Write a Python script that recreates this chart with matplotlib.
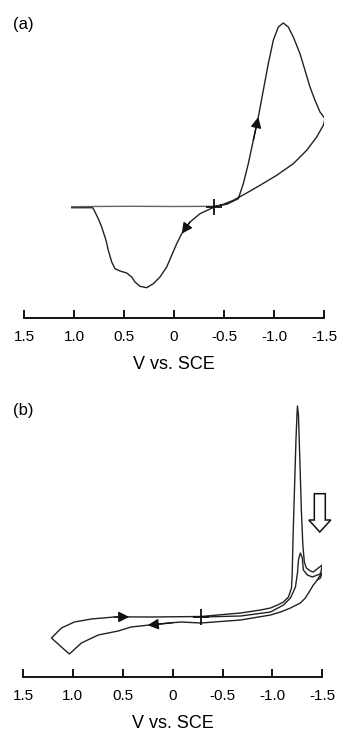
import matplotlib
matplotlib.use("Agg")
import matplotlib.pyplot as plt
from matplotlib.patches import FancyArrow

plt.rcParams['font.family'] = ['Liberation Sans', 'DejaVu Sans']

# ---- panel (a): single cycle, potential (V vs SCE) and current (arb. units)
a_neg_v = [-0.403, -0.26, -0.16, -0.077, -0.027, 0.023, 0.073, 0.14, 0.207, 0.273,
           0.34, 0.39, 0.423, 0.473, 0.54, 0.59, 0.623, 0.657, 0.68, 0.723,
           0.757, 0.79, 0.813, 1.023]
a_neg_i = [0.0, -0.67, -1.5, -2.67, -3.67, -4.83, -6.0, -7.0, -7.67, -8.07,
           -7.93, -7.5, -7.0, -6.6, -6.4, -6.17, -5.5, -4.33, -3.33, -2.0,
           -1.17, -0.5, -0.07, -0.07]
a_base_v = [1.023, 0.7, 0.41, 0.0, -0.403]
a_base_i = [0.03, 0.06, 0.07, 0.05, 0.07]
a_pos_v = [-0.403, -0.527, -0.643, -0.693, -0.743, -0.793, -0.843, -0.893, -0.943,
           -0.993, -1.043, -1.093, -1.143, -1.193, -1.26, -1.31, -1.36, -1.41,
           -1.46, -1.51, -1.493, -1.427, -1.327, -1.193, -1.027, -0.86, -0.727,
           -0.593, -0.493, -0.403]
a_pos_i = [0.07, 0.27, 0.83, 2.33, 4.33, 6.67, 9.0, 11.67, 14.33, 16.67, 18.0,
           18.4, 18.0, 17.0, 15.33, 13.67, 12.0, 10.67, 9.5, 8.83, 8.17, 7.0,
           5.67, 4.33, 3.17, 2.17, 1.4, 0.67, 0.27, 0.0]

# ---- panel (b): two cycles
b1_fwd_v = [-0.282, -0.682, -0.881, -0.981, -1.051, -1.111, -1.161, -1.191, -1.198,
            -1.206, -1.221, -1.236, -1.246, -1.251, -1.261, -1.275, -1.29, -1.305,
            -1.32, -1.34, -1.38, -1.41, -1.46, -1.5]
b1_fwd_i = [0.02, 0.37, 0.67, 0.87, 1.17, 1.47, 1.97, 2.87, 4.17, 7.67, 12.67,
            17.67, 20.17, 21.07, 20.17, 15.67, 10.67, 7.17, 5.47, 4.87, 4.57,
            4.47, 4.87, 5.17]
b1_ret_v = [-1.5, -1.49, -1.48, -1.45, -1.41, -1.38, -1.33, -1.28, -1.181, -1.081,
            -0.981, -0.682, -0.282, -0.083, 0.0, 0.25, 0.416, 0.546, 0.746, 0.915,
            1.035, 1.115, 1.215, 1.115, 0.985, 0.815, 0.586, 0.435, 0.217, -0.282]
b1_ret_i = [5.17, 4.67, 4.17, 3.67, 3.17, 2.67, 1.87, 1.37, 0.87, 0.47, 0.17,
            -0.33, -0.63, -0.53, -0.6, -0.85, -1.03, -1.43, -1.83, -2.63, -3.73,
            -3.03, -2.13, -1.13, -0.53, -0.23, -0.03, -0.02, -0.03, 0.02]
b2_fwd_v = [-0.282, -0.682, -0.981, -1.111, -1.181, -1.231, -1.251, -1.261, -1.28,
            -1.3, -1.31, -1.35, -1.4, -1.45, -1.5, -1.48, -1.45]
b2_fwd_i = [-0.03, 0.07, 0.47, 1.17, 1.87, 2.97, 4.37, 5.67, 6.37, 5.87, 4.67,
            4.17, 3.97, 4.17, 4.37, 3.87, 3.67]

ticks = [1.5, 1.0, 0.5, 0, -0.5, -1.0, -1.5]
tick_labels = ['1.5', '1.0', '0.5', '0', '-0.5', '-1.0', '-1.5']

line_kw = dict(color='#222222', lw=1.0)


def style_axis(ax, ylim):
    ax.set_xlim(1.5, -1.5)
    ax.set_ylim(*ylim)
    for s in ['left', 'right', 'top']:
        ax.spines[s].set_visible(False)
    ax.spines['bottom'].set_linewidth(1.3)
    ax.set_yticks([])
    ax.set_xticks(ticks)
    ax.set_xticklabels(tick_labels)
    ax.tick_params(axis='x', direction='in', length=6, width=1.3, pad=8.5,
                   labelsize=11)
    ax.set_xlabel('V vs. SCE', fontsize=13, labelpad=9)
    ax.patch.set_alpha(0)


def arrow_on(ax, xs, ys, i):
    ax.annotate('', xy=(xs[i + 1], ys[i + 1]), xytext=(xs[i], ys[i]),
                arrowprops=dict(arrowstyle='-|>', mutation_scale=16,
                                color='#111111', lw=1.0, shrinkA=0, shrinkB=0))


fig = plt.figure(figsize=(3.38, 7.36), dpi=100)

# panel (a)
ax1 = fig.add_axes([24 / 338, 1 - 318 / 736, 300 / 338, 303 / 736])
ax1.plot(a_neg_v, a_neg_i, **line_kw)
ax1.plot(a_base_v, a_base_i, color='#666666', lw=1.0)
ax1.plot(a_pos_v, a_pos_i, **line_kw)
ax1.plot(a_neg_v[0], a_neg_i[0], marker='+', ms=12, mew=1.3, color='#111111')
arrow_on(ax1, a_neg_v, a_neg_i, 2)
arrow_on(ax1, a_pos_v, a_pos_i, 5)
style_axis(ax1, (-11.1, 19.2))

# panel (b)
ax2 = fig.add_axes([23 / 338, 1 - 677 / 736, 299.3 / 338, 282 / 736])
ax2.plot(b1_fwd_v, b1_fwd_i, **line_kw)
ax2.plot(b1_ret_v, b1_ret_i, **line_kw)
ax2.plot(b2_fwd_v, b2_fwd_i, **line_kw)
ax2.plot(b1_fwd_v[0], b1_fwd_i[0], marker='+', ms=12, mew=1.3, color='#111111')
arrow_on(ax2, b1_ret_v, b1_ret_i, 26)
arrow_on(ax2, b1_ret_v, b1_ret_i, 14)
ax2.add_patch(FancyArrow(-1.475, 12.3, 0, -3.83, width=0.11, head_width=0.22,
                         head_length=1.2, length_includes_head=True,
                         facecolor='white', edgecolor='#111111', lw=1.1,
                         clip_on=False))
style_axis(ax2, (-6.03, 22.17))

fig.text(23 / 338, 1 - 24 / 736, '(a)', fontsize=12, ha='center', va='center')
fig.text(23 / 338, 1 - 410 / 736, '(b)', fontsize=12, ha='center', va='center')

fig.savefig('out.png', dpi=100)
